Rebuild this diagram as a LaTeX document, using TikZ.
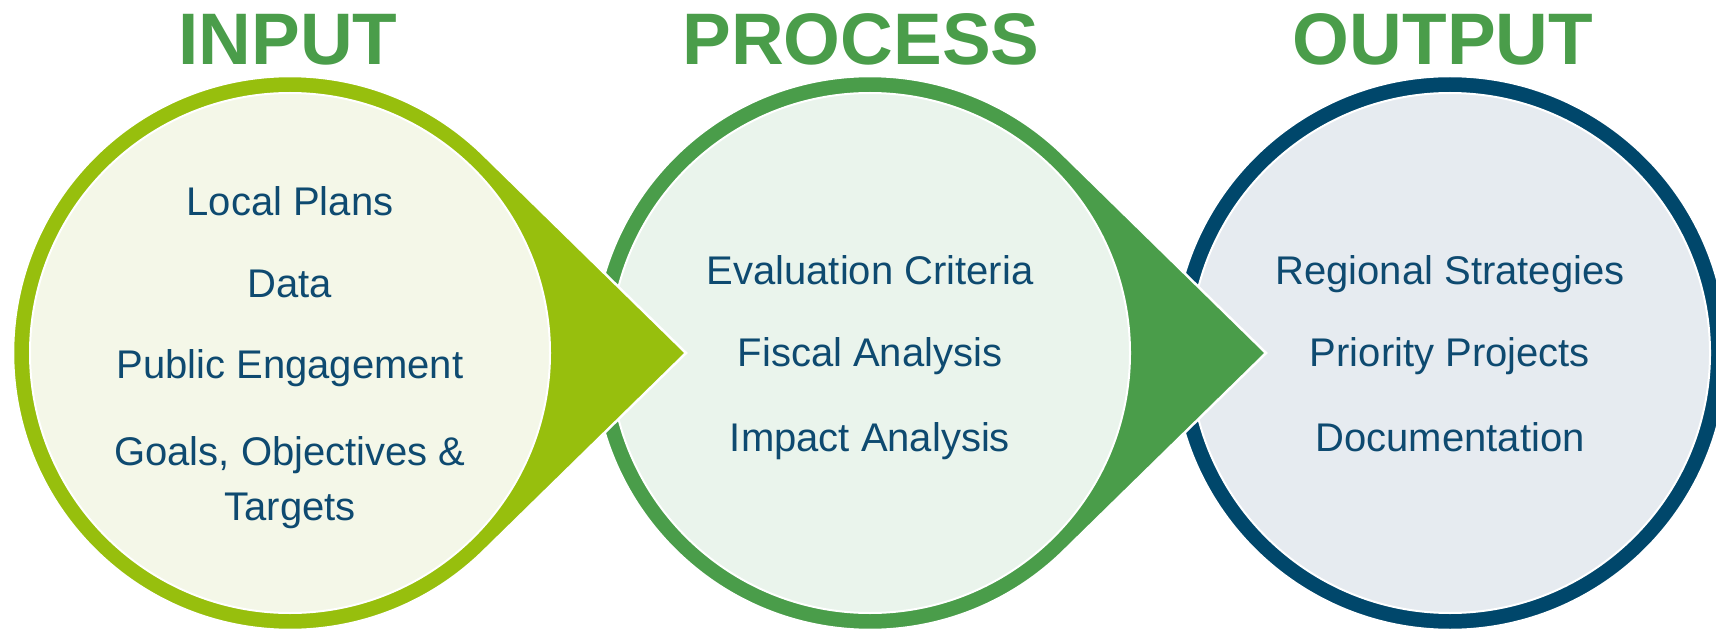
\documentclass[tikz,border=0pt]{standalone}
\usepackage{fontspec}
\setmainfont{Liberation Sans}
\usepackage{tikz}
\usetikzlibrary{calc}
\usepackage{xcolor}

\definecolor{limering}{HTML}{97BF0D}
\definecolor{greenring}{HTML}{4A9D4A}
\definecolor{navyring}{HTML}{00476B}
\definecolor{limefill}{HTML}{F4F7E8}
\definecolor{greenfill}{HTML}{EAF4EC}
\definecolor{navyfill}{HTML}{E6EBF0}
\definecolor{itemtext}{HTML}{0E4A70}
\definecolor{titletext}{HTML}{4A9D4A}

\tikzset{
    stagetitle/.style={text=titletext, inner sep=0pt, anchor=base,
        font=\fontsize{73}{73}\selectfont\bfseries},
    stageitem/.style={text=itemtext, inner sep=0pt, anchor=base, align=center,
        font=\fontsize{40}{57}\selectfont},
    dropshape/.style={draw=white, line width=2.5pt},
    innerdisc/.style={draw=white, line width=2pt},
}

\begin{document}
\begin{tikzpicture}[x=1pt,y=-1pt]
        \useasboundingbox (0,0) rectangle (1716,631);

        \coordinate (in)   at (290,353);
        \coordinate (proc) at (870,353);
        \coordinate (out)  at (1450,353);

        % output circle first, the arrows lie on top
        \path[fill=navyring, dropshape] (out) circle[radius=277];
        \path[fill=navyfill, innerdisc] (out) circle[radius=260];

        \path[fill=greenring, dropshape] ($(proc)+(45.6:277)$)
            arc[start angle=45.6, end angle=314.4, radius=277]
            -- ($(proc)+(396,0)$) -- cycle;
        \path[fill=greenfill, innerdisc] (proc) circle[radius=260];

        \path[fill=limering, dropshape] ($(in)+(45.6:277)$)
            arc[start angle=45.6, end angle=314.4, radius=277]
            -- ($(in)+(396,0)$) -- cycle;
        \path[fill=limefill, innerdisc] (in) circle[radius=260];

        \node[stagetitle] (inputtitle)   at (288,65)  {INPUT};
        \node[stagetitle] (processtitle) at (861,65)  {PROCESS};
        \node[stagetitle] (outputtitle)  at (1443,65) {OUTPUT};

        \node[stageitem] (localplans) at (290,215) {Local Plans};
        \node[stageitem] (data)       at (290,297) {Data};
        \node[stageitem] (engagement) at (290,378) {Public Engagement};
        \node[stageitem] (goals)      at (290,520) {Goals, Objectives \&\\[-2pt]Targets};

        \node[stageitem] (criteria) at (870,284) {Evaluation Criteria};
        \node[stageitem] (fiscal)   at (870,366) {Fiscal Analysis};
        \node[stageitem] (impact)   at (870,451) {Impact Analysis};

        \node[stageitem] (strategies) at (1450,284) {Regional Strategies};
        \node[stageitem] (projects)   at (1450,366) {Priority Projects};
        \node[stageitem] (docs)       at (1450,451) {Documentation};
\end{tikzpicture}
\end{document}
